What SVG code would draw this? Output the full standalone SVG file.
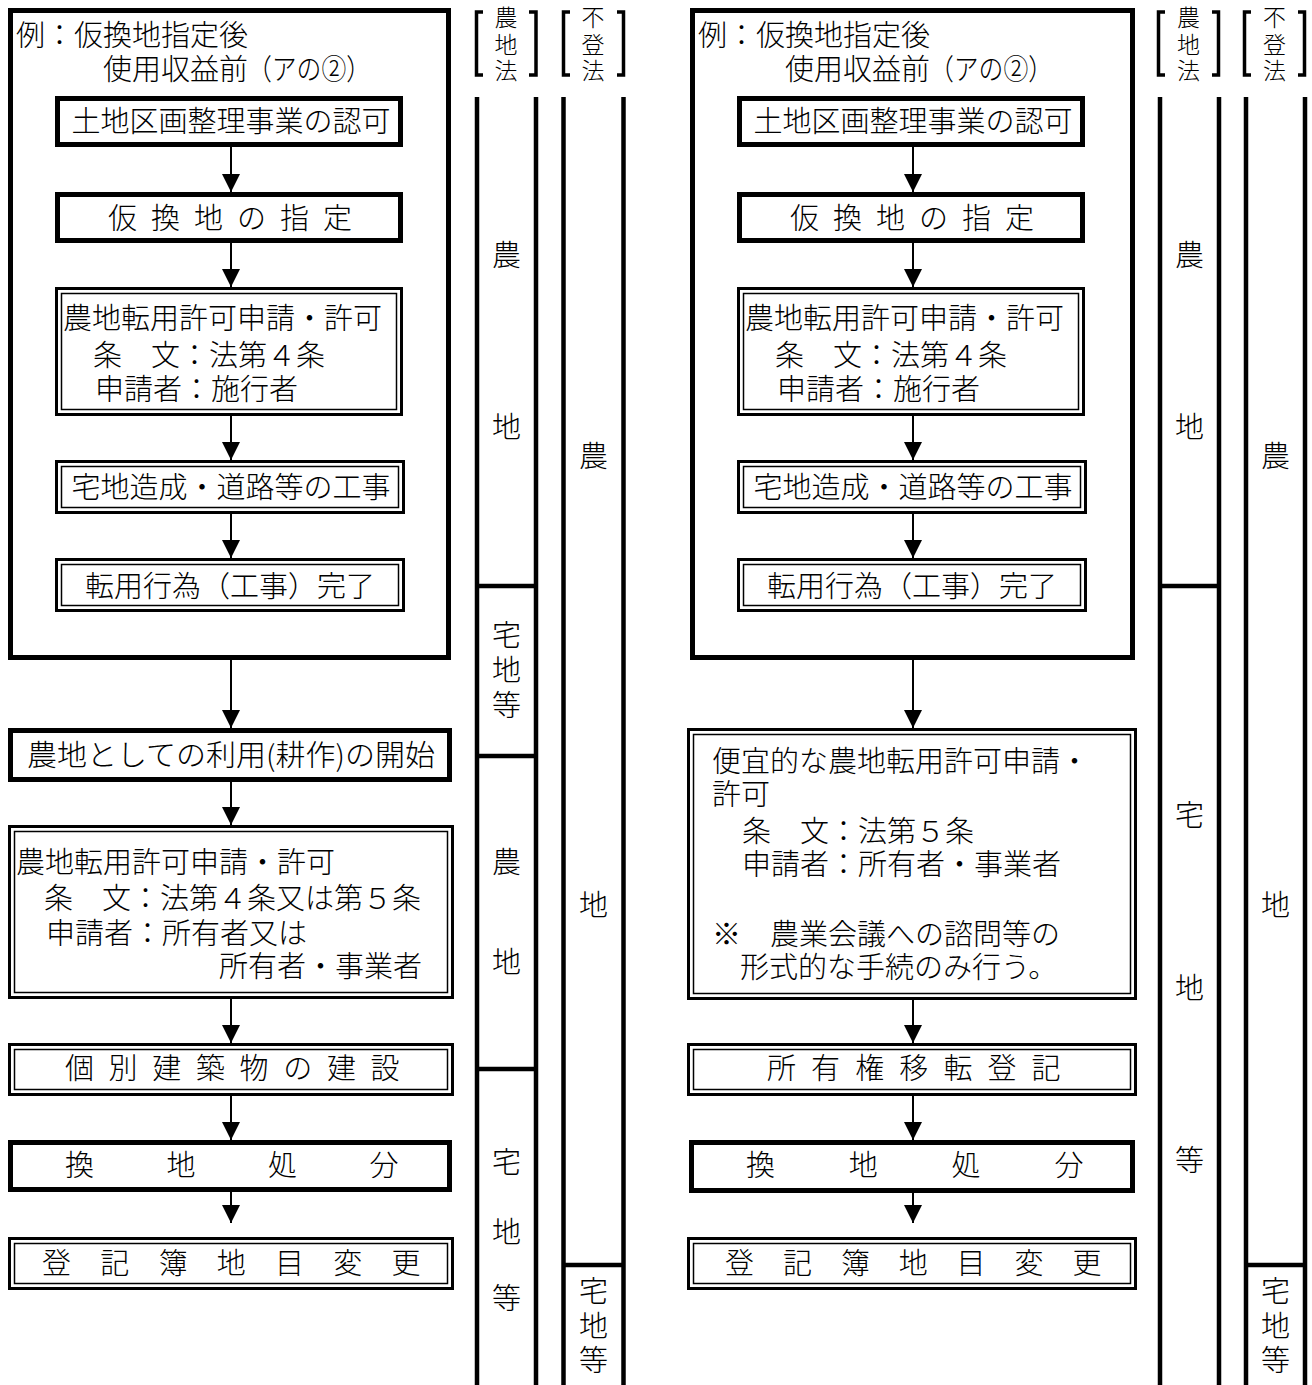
<svg xmlns="http://www.w3.org/2000/svg" width="1312" height="1385" viewBox="0 0 1312 1385">
<style>
.bg{fill:#fff}
.thick{fill:#fff;stroke:#000;stroke-width:5}
.frame{fill:none;stroke:#000;stroke-width:5}
.dbo{fill:#fff;stroke:#000;stroke-width:3}
.dbi{fill:none;stroke:#000;stroke-width:1.5}
.col{stroke:#000;stroke-width:4.5;fill:none}
.br{stroke:#000;stroke-width:3.5;fill:none}
.arr{stroke:#000;stroke-width:2;fill:none;marker-end:url(#ah)}
text{font-family:"Noto Sans CJK JP","Noto Sans CJK SC",sans-serif;fill:#000;font-weight:300}
.t{font-size:29px}
.m{font-size:29px;text-anchor:middle}
.lb{font-size:29px;text-anchor:middle}
.bl{font-size:23px;text-anchor:middle}
</style>
<defs>
<marker id="ah" markerUnits="userSpaceOnUse" markerWidth="18" markerHeight="18" refX="18" refY="9" orient="auto">
<path d="M0,0 L18,9 L0,18 z" fill="#000"/>
</marker>
</defs>
<rect class="bg" x="0" y="0" width="1312" height="1385"/>

<!-- LEFT DIAGRAM -->
<g id="left-frame">
<rect class="frame" x="10.5" y="10.5" width="438" height="647"/>
<text class="t" x="16" y="46">例：仮換地指定後</text>
<text class="t" y="80"><tspan x="103">使用収益前</tspan><tspan x="247" textLength="124" lengthAdjust="spacingAndGlyphs">（アの②）</tspan></text>
</g>
<g id="L1">
<rect class="thick" x="57.5" y="98.5" width="343" height="46"/>
<text class="m" x="231" y="132">土地区画整理事業の認可</text>
</g>
<g id="L2">
<rect class="thick" x="57.5" y="194.5" width="343" height="46"/>
<text class="t" x="108 151 194 237 280 323" y="229">仮換地の指定</text>
</g>
<g id="L3">
<rect class="dbo" x="56.5" y="288.5" width="345" height="126"/>
<rect class="dbi" x="61.5" y="293.5" width="335" height="116"/>
<text class="t"><tspan x="63" y="329">農地転用許可申請・許可</tspan><tspan x="93" y="366">条　文：法第４条</tspan><tspan x="95" y="400">申請者：施行者</tspan></text>
</g>
<g id="L4">
<rect class="dbo" x="56.5" y="461.5" width="347" height="51"/>
<rect class="dbi" x="61.5" y="466.5" width="337" height="41"/>
<text class="m" x="231" y="498">宅地造成・道路等の工事</text>
</g>
<g id="L5">
<rect class="dbo" x="56.5" y="559.5" width="347" height="51"/>
<rect class="dbi" x="61.5" y="564.5" width="337" height="41"/>
<text class="m" x="230" y="597">転用行為（工事）完了</text>
</g>
<g id="L6">
<rect class="thick" x="10.5" y="730.5" width="439" height="49"/>
<text class="t" x="27" y="766" textLength="408" lengthAdjust="spacingAndGlyphs">農地としての利用(耕作)の開始</text>
</g>
<g id="L7">
<rect class="dbo" x="9.5" y="826.5" width="443" height="171"/>
<rect class="dbi" x="14.5" y="831.5" width="433" height="161"/>
<text class="t"><tspan x="16" y="873">農地転用許可申請・許可</tspan><tspan x="44" y="909">条　文：法第４条又は第５条</tspan><tspan x="46" y="944">申請者：所有者又は</tspan><tspan x="219" y="977">所有者・事業者</tspan></text>
</g>
<g id="L8">
<rect class="dbo" x="9.5" y="1044.5" width="443" height="50"/>
<rect class="dbi" x="14.5" y="1049.5" width="433" height="40"/>
<text class="t" x="65 108.6 152.3 195.9 239.6 283.2 326.9 370.5" y="1079">個別建築物の建設</text>
</g>
<g id="L9">
<rect class="thick" x="10.5" y="1142.5" width="439" height="47"/>
<text class="t" x="65 166.5 268 369.5" y="1176">換地処分</text>
</g>
<g id="L10">
<rect class="dbo" x="9.5" y="1238.5" width="443" height="50"/>
<rect class="dbi" x="14.5" y="1243.5" width="433" height="40"/>
<text class="t" x="42 100.25 158.5 216.75 275 333.25 391.5" y="1274">登記簿地目変更</text>
</g>

<!-- RIGHT DIAGRAM -->
<g id="right-frame">
<rect class="frame" x="692.5" y="10.5" width="440" height="647"/>
<text class="t" x="698" y="46">例：仮換地指定後</text>
<text class="t" y="80"><tspan x="785">使用収益前</tspan><tspan x="929" textLength="124" lengthAdjust="spacingAndGlyphs">（アの②）</tspan></text>
</g>
<g id="R1">
<rect class="thick" x="739.5" y="98.5" width="343" height="46"/>
<text class="m" x="913" y="132">土地区画整理事業の認可</text>
</g>
<g id="R2">
<rect class="thick" x="739.5" y="194.5" width="343" height="46"/>
<text class="t" x="790 833 876 919 962 1005" y="229">仮換地の指定</text>
</g>
<g id="R3">
<rect class="dbo" x="738.5" y="288.5" width="345" height="126"/>
<rect class="dbi" x="743.5" y="293.5" width="335" height="116"/>
<text class="t"><tspan x="745" y="329">農地転用許可申請・許可</tspan><tspan x="775" y="366">条　文：法第４条</tspan><tspan x="777" y="400">申請者：施行者</tspan></text>
</g>
<g id="R4">
<rect class="dbo" x="738.5" y="461.5" width="347" height="51"/>
<rect class="dbi" x="743.5" y="466.5" width="337" height="41"/>
<text class="m" x="913" y="498">宅地造成・道路等の工事</text>
</g>
<g id="R5">
<rect class="dbo" x="738.5" y="559.5" width="347" height="51"/>
<rect class="dbi" x="743.5" y="564.5" width="337" height="41"/>
<text class="m" x="912" y="597">転用行為（工事）完了</text>
</g>
<g id="R6">
<rect class="dbo" x="688.5" y="729.5" width="447" height="269"/>
<rect class="dbi" x="693.5" y="734.5" width="437" height="259"/>
<text class="t"><tspan x="712" y="772">便宜的な農地転用許可申請・</tspan><tspan x="712" y="805">許可</tspan><tspan x="742" y="842">条　文：法第５条</tspan><tspan x="742" y="875">申請者：所有者・事業者</tspan><tspan x="712" y="945">※　農業会議への諮問等の</tspan><tspan x="740" y="978">形式的な手続のみ行う。</tspan></text>
</g>
<g id="R7">
<rect class="dbo" x="688.5" y="1044.5" width="447" height="50"/>
<rect class="dbi" x="693.5" y="1049.5" width="437" height="40"/>
<text class="t" x="767 811.1 855.2 899.3 943.4 987.5 1031.6" y="1079">所有権移転登記</text>
</g>
<g id="R8">
<rect class="thick" x="691.5" y="1142.5" width="441" height="48"/>
<text class="t" x="746 848.8 951.6 1054.4" y="1176">換地処分</text>
</g>
<g id="R9">
<rect class="dbo" x="688.5" y="1238.5" width="447" height="50"/>
<rect class="dbi" x="693.5" y="1243.5" width="437" height="40"/>
<text class="t" x="725 782.9 840.8 898.7 956.6 1014.5 1072.4" y="1274">登記簿地目変更</text>
</g>

<!-- CONNECTORS -->
<g id="connectors">
<line class="arr" x1="231" y1="147" x2="231" y2="192"/>
<line class="arr" x1="231" y1="243" x2="231" y2="287"/>
<line class="arr" x1="231" y1="416" x2="231" y2="460"/>
<line class="arr" x1="231" y1="514" x2="231" y2="558"/>
<line class="arr" x1="231" y1="660" x2="231" y2="728"/>
<line class="arr" x1="231" y1="782" x2="231" y2="825"/>
<line class="arr" x1="231" y1="999" x2="231" y2="1043"/>
<line class="arr" x1="231" y1="1096" x2="231" y2="1140"/>
<line class="arr" x1="231" y1="1192" x2="231" y2="1223"/>
<line class="arr" x1="913" y1="147" x2="913" y2="192"/>
<line class="arr" x1="913" y1="243" x2="913" y2="287"/>
<line class="arr" x1="913" y1="416" x2="913" y2="460"/>
<line class="arr" x1="913" y1="514" x2="913" y2="558"/>
<line class="arr" x1="913" y1="660" x2="913" y2="728"/>
<line class="arr" x1="913" y1="1000" x2="913" y2="1043"/>
<line class="arr" x1="913" y1="1096" x2="913" y2="1140"/>
<line class="arr" x1="913" y1="1193" x2="913" y2="1223"/>
</g>

<!-- STATUS COLUMNS LEFT -->
<g id="left-nochi-col">
<path class="br" d="M483,12 H476.5 V75 H483 M529,12 H536 V75 H529"/>
<text class="bl"><tspan x="506" y="26">農</tspan><tspan x="506" y="52.5">地</tspan><tspan x="506" y="79">法</tspan></text>
<line class="col" x1="477" y1="97" x2="477" y2="1385"/>
<line class="col" x1="536" y1="97" x2="536" y2="1385"/>
<line class="col" x1="477" y1="586" x2="536" y2="586"/>
<line class="col" x1="477" y1="756" x2="536" y2="756"/>
<line class="col" x1="477" y1="1069" x2="536" y2="1069"/>
<text class="lb" x="506.5" y="266">農</text>
<text class="lb" x="506.5" y="438">地</text>
<text class="lb"><tspan x="506.5" y="646">宅</tspan><tspan x="506.5" y="681">地</tspan><tspan x="506.5" y="716">等</tspan></text>
<text class="lb" x="506.5" y="873">農</text>
<text class="lb" x="506.5" y="973">地</text>
<text class="lb" x="506.5" y="1173">宅</text>
<text class="lb" x="506.5" y="1243">地</text>
<text class="lb" x="506.5" y="1309">等</text>
</g>
<g id="left-fudo-col">
<path class="br" d="M570,12 H563.5 V75 H570 M617,12 H623.5 V75 H617"/>
<text class="bl"><tspan x="593" y="26">不</tspan><tspan x="593" y="52.5">登</tspan><tspan x="593" y="79">法</tspan></text>
<line class="col" x1="563.5" y1="97" x2="563.5" y2="1385"/>
<line class="col" x1="623.5" y1="97" x2="623.5" y2="1385"/>
<line class="col" x1="563.5" y1="1265" x2="623.5" y2="1265"/>
<text class="lb" x="593.5" y="467">農</text>
<text class="lb" x="593.5" y="916">地</text>
<text class="lb"><tspan x="593.5" y="1302">宅</tspan><tspan x="593.5" y="1337">地</tspan><tspan x="593.5" y="1371">等</tspan></text>
</g>

<!-- STATUS COLUMNS RIGHT -->
<g id="right-nochi-col">
<path class="br" d="M1165,12 H1158.5 V75 H1165 M1212,12 H1218.5 V75 H1212"/>
<text class="bl"><tspan x="1188.5" y="26">農</tspan><tspan x="1188.5" y="52.5">地</tspan><tspan x="1188.5" y="79">法</tspan></text>
<line class="col" x1="1160" y1="97" x2="1160" y2="1385"/>
<line class="col" x1="1219" y1="97" x2="1219" y2="1385"/>
<line class="col" x1="1160" y1="586" x2="1219" y2="586"/>
<text class="lb" x="1189.5" y="266">農</text>
<text class="lb" x="1189.5" y="438">地</text>
<text class="lb" x="1189.5" y="826">宅</text>
<text class="lb" x="1189.5" y="999">地</text>
<text class="lb" x="1189.5" y="1171">等</text>
</g>
<g id="right-fudo-col">
<path class="br" d="M1251,12 H1244.5 V75 H1251 M1298,12 H1304.5 V75 H1298"/>
<text class="bl"><tspan x="1274.5" y="26">不</tspan><tspan x="1274.5" y="52.5">登</tspan><tspan x="1274.5" y="79">法</tspan></text>
<line class="col" x1="1246" y1="97" x2="1246" y2="1385"/>
<line class="col" x1="1305" y1="97" x2="1305" y2="1385"/>
<line class="col" x1="1246" y1="1265" x2="1305" y2="1265"/>
<text class="lb" x="1275.5" y="467">農</text>
<text class="lb" x="1275.5" y="916">地</text>
<text class="lb"><tspan x="1275.5" y="1302">宅</tspan><tspan x="1275.5" y="1337">地</tspan><tspan x="1275.5" y="1371">等</tspan></text>
</g>
</svg>
